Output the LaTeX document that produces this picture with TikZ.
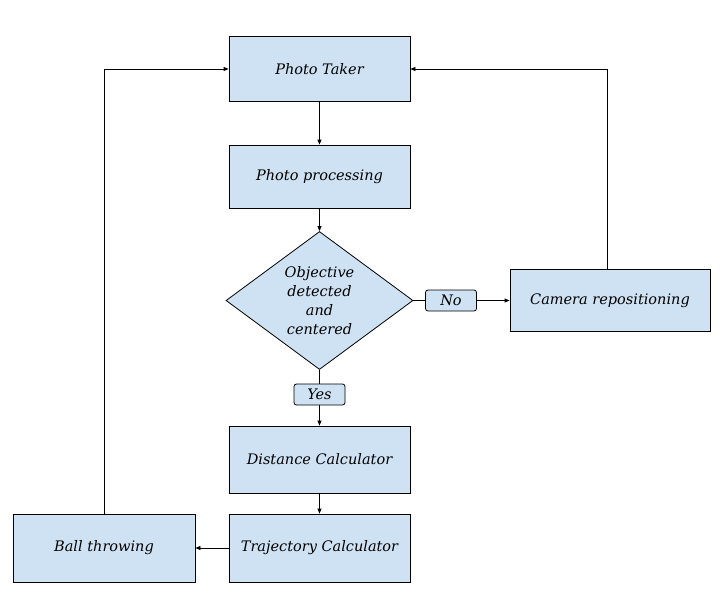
\documentclass[tikz,border=0pt]{standalone}
\usepackage{fontspec}
\setmainfont{DejaVu Serif}
\usetikzlibrary{shapes.geometric,arrows.meta}
\definecolor{boxblue}{HTML}{CFE2F3}
\begin{document}
\begin{tikzpicture}[x=1pt,y=-1pt,
  font=\fontsize{14.5}{19}\selectfont\itshape,
  blk/.style={draw=black,line width=0.8pt,fill=boxblue,minimum width=181pt,minimum height=65pt,inner sep=0pt},
  dec/.style={draw=black,line width=0.8pt,fill=boxblue,diamond,minimum width=187pt,minimum height=138pt,inner sep=0pt,align=center},
  lbl/.style={draw=black,line width=0.8pt,fill=boxblue,rounded corners=2.5pt,minimum width=51pt,minimum height=21pt,inner sep=0pt},
  conn/.style={line width=0.8pt,draw=black},
  arr/.style={conn,-{Triangle[length=5pt,width=4pt]}}]
\useasboundingbox (0,0) rectangle (723,603);
\node[blk] (pt) at (319.5,69) {Photo Taker};
\node[blk,minimum height=63pt] (pp) at (319.5,176.5) {Photo processing};
\node[dec] (dd) at (319.5,300.5) {Objective\\detected\\and\\centered};
\node[lbl] (no) at (451,300.5) {No};
\node[blk,minimum width=200pt,minimum height=62pt] (cam) at (610,300.5) {Camera repositioning};
\node[lbl] (yes) at (319.5,394.5) {Yes};
\node[blk,minimum height=67pt] (dc) at (319.5,459.5) {Distance Calculator};
\node[blk,minimum height=68pt] (tc) at (319.5,548) {Trajectory Calculator};
\node[blk,minimum width=182pt,minimum height=68pt] (bt) at (104,548) {Ball throwing};
\draw[arr] (pt) -- (pp);
\draw[arr] (pp) -- (dd);
\draw[conn] (dd.east) -- (no.west);
\draw[arr] (no.east) -- (cam.west);
\draw[conn] (dd.south) -- (yes.north);
\draw[arr] (yes.south) -- (dc.north);
\draw[arr] (dc) -- (tc);
\draw[arr] (tc.west) -- (bt.east);
\draw[arr] ([xshift=-3pt]cam.north) |- (pt.east);
\draw[arr] (bt.north) |- (pt.west);
\end{tikzpicture}
\end{document}
